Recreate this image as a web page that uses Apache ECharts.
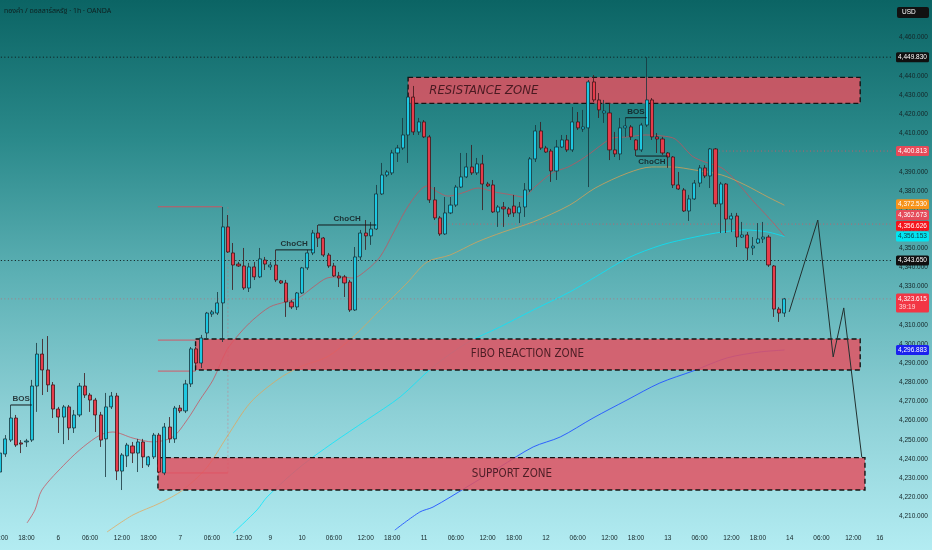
<!DOCTYPE html>
<html>
<head>
<meta charset="utf-8">
<script src="https://cdn.jsdelivr.net/npm/echarts@6.0.0/dist/echarts.min.js"></script>
<style>
html,body{margin:0;padding:0;}
#chart{width:932px;height:550px;background:linear-gradient(180deg,#0b6464 0%,#2a898a 25%,#5cb0b4 50%,#8dd0d6 75%,#b3ecf2 100%);}
</style>
</head>
<body>
<div id="chart"></div>
<script>
// trading sessions: [day, firstHour, lastHour]
const sessions = [[5,12,16],[5,18,23],[6,0,16],[6,18,23],[7,0,16],[9,18,23],[10,0,16],[10,18,23],[11,0,16],[11,18,23],[12,0,16],[12,18,23],[13,0,16],[13,18,23],[14,0,16],[16,18,20]];

// hourly candles: [open, close, low, high]
const candles = [
[4233.2,4243.1,4231.1,4244.7],[4242.6,4250.5,4241.1,4252.5],[4249.9,4261.4,4248.9,4268.2],[4261.4,4247.3,4246.3,4263.0],
[4248.4,4247.8,4243.1,4249.9],[4248.9,4249.4,4246.3,4250.5],[4249.9,4278.1,4248.9,4281.3],[4278.1,4294.8,4264.6,4300.6],
[4294.8,4286.5,4273.4,4302.7],[4286.5,4278.7,4275.0,4304.2],[4278.7,4266.1,4261.4,4280.2],[4266.1,4261.9,4253.6,4267.2],
[4261.9,4267.2,4247.8,4268.2],[4267.2,4256.2,4249.9,4268.2],[4256.2,4263.0,4253.6,4265.6],[4263.0,4278.1,4261.9,4279.7],
[4278.1,4273.4,4271.9,4284.9],[4273.4,4270.8,4264.6,4274.5],[4270.8,4263.0,4254.1,4271.9],[4263.0,4249.9,4246.3,4264.6],
[4250.5,4267.2,4230.6,4274.5],[4267.2,4272.9,4266.1,4275.0],[4272.9,4233.7,4229.0,4274.5],[4233.7,4242.1,4223.8,4243.1],
[4241.6,4247.3,4235.8,4248.4],[4246.8,4243.1,4237.9,4248.9],[4243.1,4248.9,4233.2,4250.5],[4248.9,4241.1,4235.3,4250.5],
[4236.9,4241.1,4235.8,4241.6],[4241.1,4252.5,4240.0,4253.6],[4252.5,4233.2,4232.7,4253.6],[4232.7,4256.7,4231.6,4258.8],
[4256.7,4250.5,4248.4,4261.9],[4250.5,4266.6,4248.4,4267.7],[4266.6,4265.1,4264.0,4268.2],[4265.1,4279.2,4264.0,4281.3],
[4279.2,4297.5,4277.6,4298.5],[4297.5,4290.1,4288.6,4298.5],[4290.1,4303.2,4287.5,4304.8],[4305.8,4316.2,4303.2,4316.8],
[4315.7,4316.8,4314.2,4317.8],[4316.2,4321.5,4315.2,4327.2],[4321.5,4361.2,4301.1,4371.6],[4361.2,4348.1,4347.6,4367.4],
[4347.6,4341.3,4328.3,4352.8],[4341.8,4340.8,4340.3,4342.9],[4340.8,4329.3,4328.3,4350.2],[4329.3,4340.3,4327.2,4342.4],
[4340.3,4335.1,4333.5,4342.9],[4335.1,4344.5,4334.5,4350.2],[4343.9,4341.8,4338.7,4345.5],[4340.3,4341.3,4338.7,4342.9],
[4341.3,4333.5,4332.4,4349.2],[4333.0,4331.9,4331.4,4333.5],[4331.9,4322.0,4314.2,4333.5],[4322.0,4319.4,4318.3,4323.0],
[4319.4,4326.7,4317.8,4327.2],[4326.7,4339.8,4326.2,4340.3],[4339.8,4347.6,4338.7,4349.2],[4347.6,4358.0,4346.5,4359.6],
[4358.0,4355.4,4350.7,4362.2],[4355.4,4346.5,4345.5,4355.9],[4346.5,4340.8,4339.8,4347.6],[4340.8,4335.6,4335.1,4342.4],
[4335.6,4334.5,4329.8,4337.7],[4335.1,4331.9,4324.6,4336.1],[4332.4,4317.8,4316.8,4333.5],[4317.8,4345.5,4317.3,4350.7],
[4345.5,4358.0,4343.9,4359.6],[4358.0,4356.5,4349.2,4364.8],[4356.5,4360.1,4351.8,4363.8],[4360.1,4378.4,4359.6,4383.1],
[4378.4,4388.3,4377.9,4394.6],[4388.3,4389.9,4387.3,4390.9],[4389.4,4399.8,4388.3,4401.4],[4399.8,4402.4,4395.1,4404.0],
[4402.4,4409.2,4401.4,4418.1],[4409.2,4429.0,4394.6,4433.7],[4429.0,4410.8,4409.2,4434.8],[4410.8,4416.0,4409.2,4418.1],
[4416.0,4408.2,4407.6,4417.0],[4408.2,4375.3,4373.7,4409.2],[4375.3,4365.9,4364.8,4382.0],[4365.9,4357.5,4356.5,4366.9],
[4357.5,4368.5,4357.0,4376.8],[4368.5,4372.6,4367.9,4376.8],[4372.6,4382.0,4371.6,4383.1],[4382.0,4387.3,4381.5,4399.8],
[4387.3,4392.5,4386.7,4399.8],[4392.5,4389.4,4388.3,4404.0],[4389.4,4394.1,4388.3,4397.2],[4394.1,4383.6,4370.0,4398.8],
[4383.6,4382.6,4382.0,4384.7],[4383.1,4369.0,4368.5,4385.7],[4369.0,4371.6,4361.2,4372.6],[4371.6,4370.6,4361.2,4374.2],
[4370.6,4367.9,4366.4,4371.6],[4372.1,4368.5,4366.4,4377.9],[4368.5,4371.6,4363.2,4374.2],[4371.6,4380.5,4366.4,4384.1],
[4380.5,4396.7,4379.4,4397.7],[4396.7,4411.3,4395.1,4414.4],[4411.3,4402.4,4401.4,4416.0],[4402.4,4400.3,4399.8,4403.5],
[4400.8,4390.4,4384.7,4401.9],[4390.4,4402.9,4385.7,4406.6],[4402.9,4406.6,4402.4,4409.2],[4406.6,4401.4,4400.3,4409.2],
[4401.4,4416.0,4400.3,4423.8],[4416.0,4412.9,4411.8,4421.2],[4412.3,4413.4,4410.8,4422.3],[4412.9,4436.9,4382.0,4437.9],
[4436.9,4427.5,4426.4,4440.5],[4427.5,4422.3,4418.1,4431.1],[4420.7,4421.7,4415.5,4427.5],[4420.7,4401.4,4396.1,4425.9],
[4401.4,4399.3,4397.7,4410.8],[4399.3,4412.9,4396.1,4418.1],[4412.9,4413.9,4408.2,4418.2],[4413.4,4408.2,4406.6,4414.4],
[4406.6,4401.4,4398.2,4407.1],[4401.4,4414.4,4400.3,4415.5],[4414.4,4427.5,4413.4,4449.83],[4427.5,4408.2,4406.6,4428.5],
[4408.2,4407.1,4399.8,4410.2],[4407.1,4399.8,4398.8,4408.2],[4399.8,4397.7,4392.0,4400.3],[4397.7,4383.1,4381.5,4398.2],
[4383.1,4381.0,4380.5,4389.9],[4380.5,4369.5,4369.0,4381.5],[4369.5,4375.8,4364.3,4377.9],[4375.8,4384.1,4375.3,4385.7],
[4384.1,4392.0,4382.0,4393.5],[4392.0,4387.8,4386.7,4393.5],[4387.8,4401.9,4381.5,4402.4],[4401.9,4373.2,4371.6,4402.4],
[4373.2,4383.6,4358.0,4384.7],[4383.6,4365.3,4358.0,4384.1],[4365.3,4366.9,4358.5,4368.5],[4366.9,4355.9,4350.7,4368.5],
[4355.9,4357.0,4355.4,4363.8],[4357.0,4350.2,4343.9,4358.5],[4350.2,4351.2,4346.5,4355.9],[4352.8,4354.9,4352.3,4363.2],
[4354.9,4355.9,4352.8,4363.8],[4355.9,4341.3,4340.3,4357.0],[4340.8,4318.3,4314.2,4341.3],[4318.3,4316.2,4311.6,4319.4],
[4316.2,4323.615,4314.2,4324.1]
];

// moving averages: [barIndex, price]
const maRed = [[5.1,4206.6],[6.6,4213.4],[7.9,4223.8],[12.6,4238.4],[15.7,4246.3],[18.9,4252.5],[21.3,4254.1],[25.1,4250.9],[28.9,4248.9],[32.6,4251.5],[35.3,4260.4],[37.7,4270.8],[40.2,4281.3],[42.8,4296.9],[45.3,4305.8],[47.7,4312.6],[50.9,4319.4],[53.8,4322.0],[56.6,4324.6],[59.1,4329.8],[61.7,4334.5],[64.2,4335.1],[66.6,4334.5],[69.2,4338.7],[71.7,4345.5],[74.2,4358.0],[77.4,4373.7],[80.6,4382.6],[82.6,4379.4],[84.5,4377.3],[87.2,4378.9],[90.2,4381.5],[93.4,4379.4],[96.6,4377.9],[98.7,4376.8],[100.9,4382.0],[104.2,4389.4],[107.2,4392.5],[110.4,4397.7],[114.2,4405.5],[115.5,4407.6],[118.5,4408.2],[121.7,4409.2],[124.9,4408.7],[127.4,4407.1],[130.6,4398.2],[133.0,4395.1],[136.2,4392.0],[138.7,4385.7],[141.9,4375.3],[144.9,4366.4],[148,4356.626]];
const maOrange = [[20.2,4201.9],[25.1,4210.8],[30.2,4217.0],[34.5,4223.8],[39.1,4235.8],[42.8,4251.5],[47.2,4269.3],[52.3,4281.3],[56.6,4288.1],[61.7,4293.3],[66.6,4303.7],[71.7,4317.8],[76.8,4331.9],[80.6,4342.9],[84.9,4346.5],[90.0,4353.3],[94.9,4358.5],[100.6,4363.8],[107.5,4372.6],[112.3,4381.5],[118.5,4389.4],[123.0,4392.5],[126.8,4392.5],[131.1,4390.9],[136.2,4388.3],[140.6,4383.1],[144.9,4376.8],[148,4372.53]];
const maCyan = [[44.0,4201.4],[48.5,4213.4],[50.4,4220.2],[56.6,4235.8],[62.8,4248.4],[69.2,4260.4],[75.5,4272.4],[81.7,4288.1],[88.1,4300.6],[94.3,4308.9],[100.6,4317.8],[107.5,4327.2],[112.3,4335.0],[118.5,4345.0],[124.9,4351.8],[131.1,4355.9],[136.2,4358.5],[140.6,4359.6],[144.9,4358.5],[148,4356.153]];
const maBlue = [[74.5,4202.9],[79.2,4212.3],[81.7,4214.9],[88.1,4225.4],[94.3,4235.8],[100.6,4246.3],[105.7,4251.5],[111.9,4261.4],[118.3,4270.8],[124.5,4279.7],[130.8,4286.0],[137.2,4292.8],[143.4,4295.9],[148,4296.883]];

// zones: [fromBar, toBar, lowPrice, highPrice]
const zones = [[77.0,162.3,4425.7,4439.3],[36.9,162.3,4286.5,4302.7],[29.8,163.2,4223.8,4240.7]];
const zoneNames = ['RESISTANCE ZONE','FIBO REACTION ZONE','SUPPORT ZONE'];
const zoneLabelAt = [[91.3,4432.5],[99.5,4294.6],[96.6,4232.2]];

// market structure: [fromBar, toBar, price]
const structLines = [[2,6,4268.2],[52,59,4349.2],[60,71,4362.2],[118,122,4418.2],[120,126,4398.2]];
const structNames = ['BOS','ChoCH','ChoCH','BOS','ChoCH'];
const structBelow = [false,false,false,false,true];

// fib level lines: [fromBar, toBar, price]
const fibLines = [[29.8,41.9,4371.7],[29.8,36.9,4302.1],[29.8,36.9,4285.9],[30.8,43,4232.7]];

// horizontal levels
const blackLevels = [4449.83, 4343.65];
const pinkLevels = [[135,4400.813],[82,4362.673]];
const lastPrice = 4323.615;
const countdown = '39:19';

// projected path
const projection = [[148.9,4316.8],[154.3,4364.8],[157.2,4293.3],[159.2,4318.9],[162.6,4241.0]];

// price scale tags
const tagValues = [4449.830, 4400.813, 4372.530, 4362.673, 4356.626, 4356.153, 4343.650, 4296.883];
const tagColors = ['#101010','#e64a59','#f7931a','#e54b5a','#f5141c','#00e5f2','#101010','#1b22ee'];
const tagText = ['#fff','#fff','#fff','#fff','#fff','#0f3a40','#fff','#fff'];

const title = 'ทองคำ / ดอลลาร์สหรัฐ · 1h · OANDA';

// ---- build ----
const cats = [];
sessions.forEach(([d,h0,h1]) => { for (let h=h0; h<=h1; h++) cats.push(d + ' ' + String(h).padStart(2,'0') + ':00'); });
const N = cats.length;
function labelFor(i) {
  const parts = cats[i].split(' ');
  const d = parts[0], t = parts[1];
  const h = parseInt(t, 10);
  if (i > 0 && cats[i-1].split(' ')[0] !== d) return d;
  if (h % 6 === 0) return t;
  return '';
}
function fmt(v){ return v.toLocaleString('en-US',{minimumFractionDigits:3, maximumFractionDigits:3}); }

const FONT = "'Liberation Sans', Arial, sans-serif";
const NARROW = "'Liberation Sans Narrow', 'DejaVu Sans Condensed', 'Liberation Sans', sans-serif";
const lastX = N - 0.5;

const series = [];
const maStyles = [
  [maRed, 'rgba(200,80,92,0.75)'],
  [maOrange, 'rgba(232,162,80,0.7)'],
  [maCyan, 'rgba(0,232,255,0.75)'],
  [maBlue, 'rgba(40,90,255,0.95)']
];
maStyles.forEach(([d,c]) => series.push({type:'line', xAxisIndex:1, yAxisIndex:0, data:d, symbol:'none', smooth:0.3, z:1, silent:true, lineStyle:{color:c, width:1}}));

blackLevels.forEach(p => series.push({type:'line', xAxisIndex:1, data:[[-0.5,p],[lastX,p]], symbol:'none', z:2, silent:true, lineStyle:{color:'#0d1414', width:1, type:[1,2.5]}}));
pinkLevels.forEach(([x,p]) => series.push({type:'line', xAxisIndex:1, data:[[x,p],[lastX,p]], symbol:'none', z:2, silent:true, lineStyle:{color:'rgba(232,80,95,0.75)', width:1, type:[1,2.5]}}));
series.push({type:'line', xAxisIndex:1, data:[[-0.5,lastPrice],[lastX,lastPrice]], symbol:'none', z:2, silent:true, lineStyle:{color:'rgba(242,54,69,0.45)', width:1, type:[1,2.5]}});

fibLines.forEach(([a,b,p]) => series.push({type:'line', xAxisIndex:1, data:[[a,p],[b,p]], symbol:'none', z:2, silent:true, lineStyle:{color:'rgba(226,70,86,0.85)', width:1}}));
series.push({type:'line', xAxisIndex:1, data:[[43,fibLines[0][2]],[43,fibLines[3][2]]], symbol:'none', z:2, silent:true, lineStyle:{color:'rgba(226,90,100,0.35)', width:1, type:[2,2]}});

series.push({
  type:'custom', xAxisIndex:1, yAxisIndex:0, z:3, silent:true,
  data: zones,
  encode:{x:[0,1], y:[2,3]},
  renderItem:(params, api) => {
    const p0 = api.coord([api.value(0), api.value(3)]);
    const p1 = api.coord([api.value(1), api.value(2)]);
    return {type:'rect', shape:{x:p0[0], y:p0[1], width:p1[0]-p0[0], height:p1[1]-p0[1]},
      style:{fill:'rgba(226,82,98,0.85)', stroke:'#141414', lineWidth:1.4, lineDash:[5,3]}};
  }
});

series.push({
  type:'candlestick', xAxisIndex:0, yAxisIndex:0, data:candles, barWidth:3.6, z:4, silent:true,
  itemStyle:{color:'#1ec8e1', color0:'#e63c4b', borderColor:'#17343b', borderColor0:'#3d1519', borderWidth:0.8}
});

structLines.forEach(([a,b,p]) => series.push({type:'line', xAxisIndex:1, data:[[a,p],[b,p]], symbol:'none', z:5, silent:true, lineStyle:{color:'#141a1c', width:1}}));
series.push({
  type:'scatter', xAxisIndex:1, yAxisIndex:0, symbolSize:0, z:6, silent:true,
  data: structLines.map((s,i) => ({value:[(s[0]+s[1])/2, s[2]], name:structNames[i], label:{position: structBelow[i] ? 'bottom' : 'top'}})),
  label:{show:true, formatter:'{b}', distance:2, color:'#101416', fontSize:8, fontWeight:'bold', fontFamily:FONT}
});

series.push({type:'line', xAxisIndex:1, data:projection, symbol:'none', z:5, silent:true, lineStyle:{color:'#22302f', width:1}});

series.push({
  type:'scatter', xAxisIndex:1, yAxisIndex:0, symbolSize:0, z:6, silent:true,
  data: zoneLabelAt.map((p,i) => ({value:p, name:zoneNames[i], label: i===0 ? {fontStyle:'italic', fontSize:13} : {fontSize:11.5}})),
  label:{show:true, position:'inside', formatter:'{b}', color:'#2a0b12', fontFamily:NARROW}
});

const chart = echarts.init(document.getElementById('chart'), null, {renderer:'canvas'});
chart.setOption({
  animation:false,
  backgroundColor:'transparent',
  grid:{left:-2.65, right:38.95, top:-0.6, bottom:14.4, containLabel:false, outerBoundsMode:'none'},
  xAxis:[
    {type:'category', data:cats, boundaryGap:true, axisLine:{show:false}, axisTick:{show:false}, splitLine:{show:false},
     axisLabel:{interval:(i)=>labelFor(i)!=='', formatter:(v,i)=>labelFor(i), fontSize:6.5, color:'#142426', fontFamily:FONT, margin:-1}},
    {type:'value', min:-0.5, max:N-0.5, show:false}
  ],
  yAxis:[{type:'value', position:'right', min:4200, max:4480, interval:10, scale:true,
    axisLine:{show:false}, axisTick:{show:false}, splitLine:{show:false},
    axisLabel:{margin:6, fontSize:6.5, color:'#142426', fontFamily:FONT, formatter:(v)=> (v<4210||v>4460)?'':fmt(v)}}],
  series: series
});

// price tags on the scale
const tagX = 896, tagW = 33, tagH = 10, step = 10.8;
const ys = tagValues.map(v => chart.convertToPixel({yAxisIndex:0}, v));
const order = ys.map((y,i)=>i).sort((a,b)=>ys[a]-ys[b]);
const pos = ys.slice();
for (let k = order.length-2; k >= 0; k--) {
  const i = order[k], j = order[k+1];
  if (pos[i] > pos[j] - step) pos[i] = pos[j] - step;
}
const graphics = [];
graphics.push({type:'text', left:4, top:8, z:100, style:{text:title, fill:'#0e1f1f', fontSize:7, fontFamily:"'Noto Sans Thai','Noto Sans','DejaVu Sans',sans-serif"}});
graphics.push({type:'rect', z:100, shape:{x:897, y:7, width:32, height:11, r:2}, style:{fill:'#111'}});
graphics.push({type:'text', z:101, x:902, y:12.5, style:{text:'USD', fill:'#fff', fontSize:6.5, fontFamily:FONT, verticalAlign:'middle', align:'left'}});
tagValues.forEach((v,i) => {
  const y = pos[i];
  graphics.push({type:'rect', z:100, shape:{x:tagX, y:y-tagH/2, width:tagW, height:tagH, r:1.5}, style:{fill:tagColors[i]}});
  graphics.push({type:'text', z:101, x:tagX+tagW/2, y:y, style:{text:fmt(v), fill:tagText[i], fontSize:6.5, fontFamily:FONT, align:'center', verticalAlign:'middle'}});
});
const yl = chart.convertToPixel({yAxisIndex:0}, lastPrice);
graphics.push({type:'rect', z:100, shape:{x:tagX, y:yl-5.5, width:tagW, height:19, r:1.5}, style:{fill:'#f23645'}});
graphics.push({type:'text', z:101, x:tagX+tagW/2, y:yl, style:{text:fmt(lastPrice), fill:'#fff', fontSize:6.5, fontFamily:FONT, align:'center', verticalAlign:'middle'}});
graphics.push({type:'text', z:101, x:tagX+3, y:yl+8.5, style:{text:countdown, fill:'#ffd9dc', fontSize:6.5, fontFamily:FONT, align:'left', verticalAlign:'middle'}});
chart.setOption({graphic: graphics});
</script>
</body>
</html>
